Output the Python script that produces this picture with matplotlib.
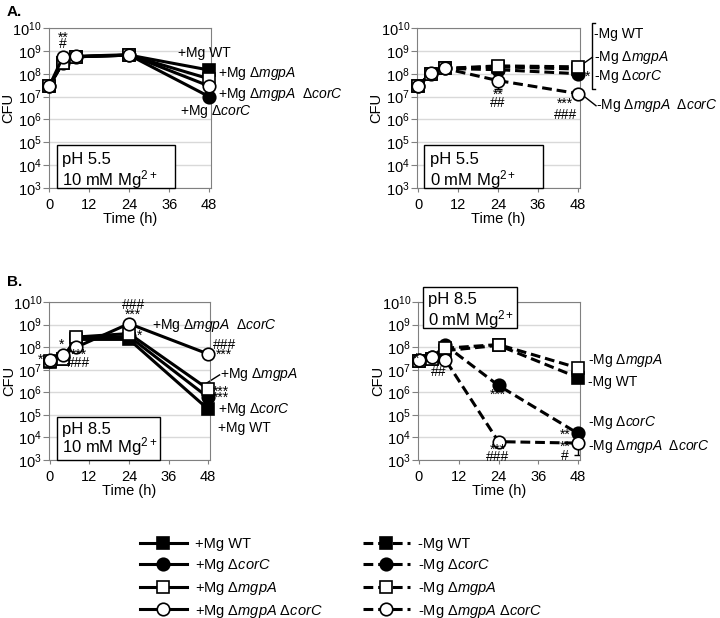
import numpy as np
import matplotlib
matplotlib.use('Agg')
import matplotlib.pyplot as plt
from matplotlib.patches import Rectangle
from matplotlib.ticker import FuncFormatter, NullLocator

plt.rcParams['font.family'] = ['Liberation Sans', 'DejaVu Sans']
plt.rcParams['mathtext.fontset'] = 'custom'
plt.rcParams['mathtext.rm'] = 'Liberation Sans'
plt.rcParams['mathtext.it'] = 'Liberation Sans:italic'
plt.rcParams['mathtext.bf'] = 'Liberation Sans:bold'

# sampling times (h)
times = [0, 4, 8, 24, 48]

# A, pH 5.5, 10 mM Mg2+
a_plus_wt = [3.0e7, 3.0e8, 5.5e8, 6.5e8, 1.45e8]
a_plus_corc = [3.0e7, 3.0e8, 5.5e8, 6.5e8, 1.0e7]
a_plus_mgpa = [3.0e7, 3.0e8, 5.5e8, 6.5e8, 6.0e7]
a_plus_double = [3.0e7, 5.3e8, 5.8e8, 6.8e8, 2.9e7]

# A, pH 5.5, 0 mM Mg2+
a_minus_wt = [3.0e7, 1.0e8, 1.7e8, 2.0e8, 1.6e8]
a_minus_corc = [3.0e7, 1.0e8, 1.7e8, 1.5e8, 1.0e8]
a_minus_mgpa = [3.0e7, 1.0e8, 1.7e8, 2.2e8, 2.0e8]
a_minus_double = [3.0e7, 1.1e8, 1.7e8, 5.0e7, 1.35e7]
a_minus_double_low = [3.0e7, 1.1e8, 1.7e8, 2.1e7, 1.35e7]

# B, pH 8.5, 10 mM Mg2+
b_plus_wt = [2.3e7, 3.0e7, 2.2e8, 2.2e8, 1.8e5]
b_plus_corc = [2.5e7, 3.5e7, 2.5e8, 3.0e8, 6.0e5]
b_plus_mgpa = [2.5e7, 3.0e7, 2.8e8, 4.0e8, 1.4e6]
b_plus_double = [2.7e7, 4.5e7, 1.0e8, 1.1e9, 5.0e7]

# B, pH 8.5, 0 mM Mg2+
b_minus_wt = [2.5e7, 3.0e7, 7.0e7, 1.2e8, 4.5e6]
b_minus_corc = [2.7e7, 3.5e7, 1.2e8, 2.0e6, 1.5e4]
b_minus_mgpa = [2.5e7, 3.0e7, 9.0e7, 1.3e8, 1.2e7]
b_minus_double = [2.7e7, 3.8e7, 2.7e7, 6.5e3, 5.6e3]
b_minus_double_low = [2.7e7, 3.8e7, 2.7e7, 6.5e3, 1.7e3]

names = ['WT', r'Δ$\mathit{corC}$', r'Δ$\mathit{mgpA}$', r'Δ$\mathit{mgpA}$ Δ$\mathit{corC}$']
double_tag = r'Δ$\mathit{mgpA}$  Δ$\mathit{corC}$'
markers = ['s', 'o', 's', 'o']
fills = ['black', 'black', 'white', 'white']
sizes = [8, 9, 8, 9]
dashed = (0, (3.2, 1.6))

W, H = 720, 618
fig = plt.figure(figsize=(W / 100, H / 100), dpi=100)


def make_axes(left, top, right, bottom):
    return fig.add_axes([left / W, 1 - bottom / H, (right - left) / W, (bottom - top) / H])


def style(ax):
    ax.set_yscale('log')
    ax.set_ylim(1e3, 1e10)
    ax.set_xlim(-0.3, 48.6)
    ax.set_yticks([10.0 ** k for k in range(3, 11)])
    ax.yaxis.set_major_formatter(FuncFormatter(lambda v, p: r'$10^{%d}$' % round(np.log10(v))))
    ax.yaxis.set_minor_locator(NullLocator())
    ax.set_xticks([0, 12, 24, 36, 48])
    ax.grid(axis='y', color='#d9d9d9', lw=1)
    ax.set_axisbelow(True)
    for s in ax.spines.values():
        s.set_color('#808080')
    ax.tick_params(axis='y', direction='out', length=4, color='#808080', labelsize=10.5, pad=1)
    ax.tick_params(axis='x', direction='out', length=3, color='#808080', labelsize=10.5, pad=4)
    ax.set_ylabel('CFU', fontsize=10.5)
    ax.yaxis.set_label_coords(-0.205, 0.5)
    ax.set_xlabel('Time (h)', fontsize=10.5)
    ax.xaxis.set_label_coords(0.5, -0.15)


def draw(ax, series, ls):
    lines = []
    for vals, m, fc, ms in zip(series, markers, fills, sizes):
        ln, = ax.plot(times, vals, color='black', lw=2.2, ls=ls, marker=m, ms=ms,
                      mfc=fc, mec='black', mew=1.2, clip_on=False, zorder=3)
        lines.append(ln)
    return lines


def cond_box(ax, x0, x1, y0, y1, tx, ty1, ty2, line1, line2):
    ax.add_patch(Rectangle((x0, y0), x1 - x0, y1 - y0, transform=ax.transAxes,
                           fc='white', ec='black', lw=1, clip_on=False, zorder=4))
    ax.text(tx, ty1, line1, transform=ax.transAxes, fontsize=12, va='center', zorder=5)
    ax.text(tx, ty2, line2, transform=ax.transAxes, fontsize=12, va='center', zorder=5)


def note(ax, t, lg, s):
    # asterisks sit high in the glyph box, so pull them down a little
    if '*' in s:
        lg -= 0.08
    ax.text(t, 10 ** lg, s, fontsize=10, ha='center', va='center', zorder=6)


def label(ax, t, lg, s):
    ax.text(t, 10 ** lg, s, fontsize=10, ha='left', va='center', zorder=6)


def leader(ax, t0, l0, t1, l1):
    ax.plot([t0, t1], [10 ** l0, 10 ** l1], color='black', lw=1, clip_on=False, zorder=2)


# ---- A left
ax1 = make_axes(48.5, 28, 211, 188)
style(ax1)
plus_lines = draw(ax1, [a_plus_wt, a_plus_corc, a_plus_mgpa, a_plus_double], '-')
cond_box(ax1, 0.052, 0.778, 0.0, 0.269, 0.083, 0.181, 0.05, 'pH 5.5', '10 mM Mg$^{2+}$')
note(ax1, 4.1, 9.66, '**')
note(ax1, 4.1, 9.3, '#')
label(ax1, 38.6, 8.91, '+Mg WT')
label(ax1, 50.8, 8.03, '+Mg ' + names[2])
label(ax1, 50.8, 7.07, '+Mg ' + double_tag)
label(ax1, 39.3, 6.33, '+Mg ' + names[1])

# ---- A right
ax2 = make_axes(417, 28, 580, 188)
style(ax2)
minus_lines = draw(ax2, [a_minus_wt, a_minus_corc, a_minus_mgpa, a_minus_double], dashed)
lo = np.array(a_minus_double) - np.array(a_minus_double_low)
ax2.errorbar(times, a_minus_double, yerr=[lo, np.zeros(len(lo))], fmt='none',
             ecolor='black', elinewidth=1, capsize=3, zorder=2)
cond_box(ax2, 0.043, 0.773, 0.0, 0.269, 0.08, 0.181, 0.05, 'pH 5.5', '0 mM Mg$^{2+}$')
note(ax2, 24, 7.17, '**')
note(ax2, 24, 6.7, '##')
note(ax2, 44.2, 6.75, '***')
note(ax2, 44.2, 6.2, '###')
note(ax2, 51.0, 7.95, '*')
ax2.plot([53.0, 52.3, 52.3, 53.0], [10 ** 10.2, 10 ** 10.2, 10 ** 7.33, 10 ** 7.33],
         color='black', lw=1, clip_on=False)
leader(ax2, 49.0, 8.38, 52.3, 8.72)
leader(ax2, 49.5, 7.05, 53.4, 6.6)
label(ax2, 52.8, 9.74, '-Mg WT')
label(ax2, 52.8, 8.73, '-Mg ' + names[2])
label(ax2, 52.8, 7.86, '-Mg ' + names[1])
label(ax2, 53.4, 6.59, '-Mg ' + double_tag)

# ---- B left
ax3 = make_axes(49, 302, 210, 460)
style(ax3)
draw(ax3, [b_plus_wt, b_plus_corc, b_plus_mgpa, b_plus_double], '-')
cond_box(ax3, 0.05, 0.69, 0.0, 0.272, 0.08, 0.19, 0.082, 'pH 8.5', '10 mM Mg$^{2+}$')
note(ax3, -2.9, 7.5, '*')
note(ax3, 3.4, 8.2, '*')
note(ax3, 8.8, 7.72, '***')
note(ax3, 8.8, 7.3, '###')
note(ax3, 25.3, 9.87, '###')
note(ax3, 25.3, 9.5, '***')
note(ax3, 27.3, 8.6, '*')
note(ax3, 52.9, 8.1, '###')
note(ax3, 52.9, 7.76, '***')
note(ax3, 52.0, 6.12, '***')
note(ax3, 52.0, 5.82, '***')
leader(ax3, 46.2, 6.28, 51.5, 6.77)
label(ax3, 31.1, 8.98, '+Mg ' + double_tag)
label(ax3, 51.5, 6.77, '+Mg ' + names[2])
label(ax3, 51.0, 5.22, '+Mg ' + names[1])
label(ax3, 51.0, 4.42, '+Mg WT')

# ---- B right
ax4 = make_axes(418, 302, 580, 460)
style(ax4)
draw(ax4, [b_minus_wt, b_minus_corc, b_minus_mgpa, b_minus_double], dashed)
lo = np.array(b_minus_double) - np.array(b_minus_double_low)
ax4.errorbar(times, b_minus_double, yerr=[lo, np.zeros(len(lo))], fmt='none',
             ecolor='black', elinewidth=1, capsize=3, zorder=2)
cond_box(ax4, 0.03, 0.61, 0.835, 1.095, 0.062, 1.013, 0.886, 'pH 8.5', '0 mM Mg$^{2+}$')
note(ax4, -0.8, 7.55, '*')
note(ax4, 5.9, 6.92, '##')
note(ax4, 23.7, 5.96, '***')
note(ax4, 23.7, 3.52, '***')
note(ax4, 23.7, 3.12, '###')
note(ax4, 44.0, 4.19, '**')
note(ax4, 44.0, 3.67, '**')
note(ax4, 44.0, 3.17, '#')
label(ax4, 51.1, 7.43, '-Mg ' + names[2])
label(ax4, 51.1, 6.46, '-Mg WT')
label(ax4, 51.1, 4.65, '-Mg ' + names[1])
label(ax4, 51.1, 3.58, '-Mg ' + double_tag)

fig.text(7 / W, 1 - 12 / H, 'A.', fontsize=11, weight='bold', va='center')
fig.text(7 / W, 1 - 282 / H, 'B.', fontsize=11, weight='bold', va='center')

leg_kw = dict(loc='upper left', frameon=False, fontsize=10.5, borderpad=0, borderaxespad=0,
              handlelength=3.2, handletextpad=0.6, labelspacing=0.4, numpoints=1)
fig.legend(plus_lines, ['+Mg ' + n for n in names], bbox_to_anchor=(140 / W, 1 - 537 / H), **leg_kw)
fig.legend(minus_lines, ['-Mg ' + n for n in names], bbox_to_anchor=(363 / W, 1 - 537 / H), **leg_kw)

fig.savefig('out.png', dpi=100)
